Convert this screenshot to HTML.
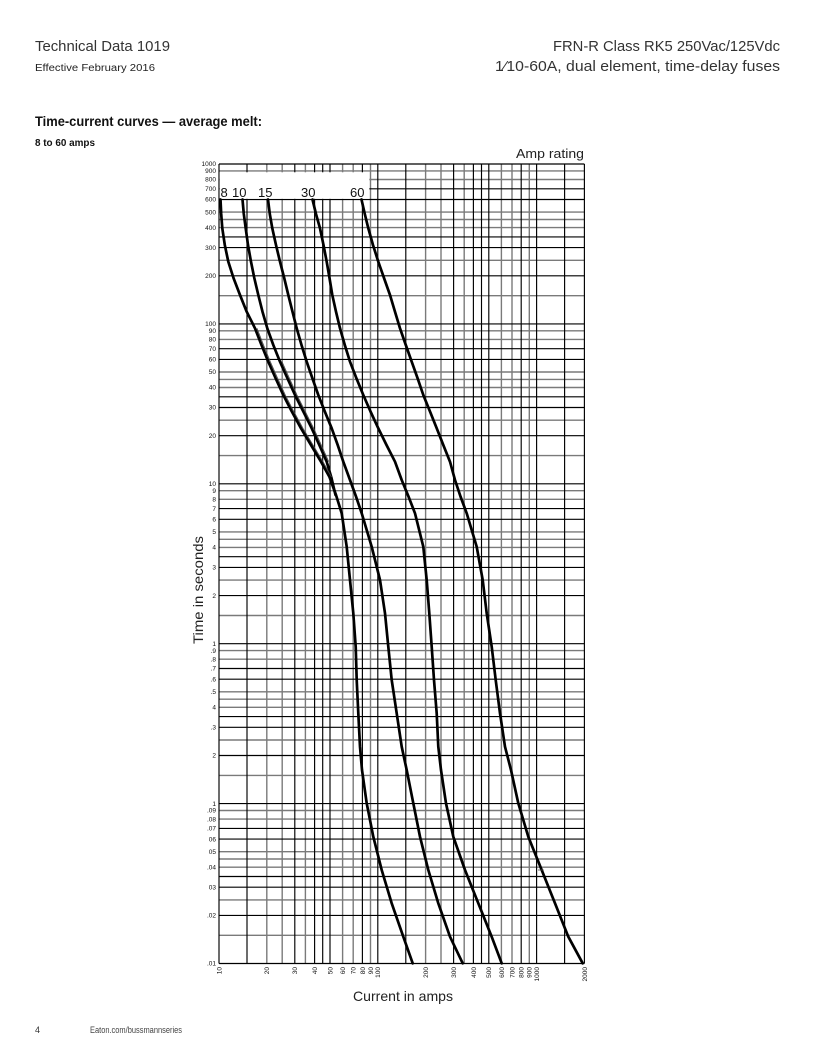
<!DOCTYPE html>
<html>
<head>
<meta charset="utf-8">
<style>
  html, body { margin:0; padding:0; background:#fff; }
  svg { display:block; }
  text { font-family: "Liberation Sans", Arial, sans-serif; }
  .yl, .xl { font-family: "DejaVu Sans", "Liberation Sans", sans-serif; font-size:6.5px; fill:#111; }
</style>
</head>
<body>
<svg width="816" height="1056" viewBox="0 0 816 1056" xmlns="http://www.w3.org/2000/svg">
  <rect x="0" y="0" width="816" height="1056" fill="#fff"/>

  <!-- Header -->
  <text x="35" y="51" font-size="15" fill="#333" textLength="135" lengthAdjust="spacingAndGlyphs">Technical Data 1019</text>
  <text x="35" y="71" font-size="10" fill="#222" textLength="120" lengthAdjust="spacingAndGlyphs">Effective February 2016</text>
  <text x="780" y="51" font-size="15" fill="#333" text-anchor="end" textLength="227" lengthAdjust="spacingAndGlyphs">FRN-R Class RK5 250Vac/125Vdc</text>
  <text x="780" y="71" font-size="15" fill="#333" text-anchor="end" textLength="285" lengthAdjust="spacingAndGlyphs">1⁄10-60A, dual element, time-delay fuses</text>
  <text x="35" y="126" font-size="14" font-weight="bold" fill="#111" textLength="227" lengthAdjust="spacingAndGlyphs">Time-current curves — average melt:</text>
  <text x="35" y="146" font-size="10" font-weight="bold" fill="#111" textLength="60" lengthAdjust="spacingAndGlyphs">8 to 60 amps</text>
  <text x="584" y="158" font-size="13" fill="#222" text-anchor="end" textLength="68" lengthAdjust="spacingAndGlyphs">Amp rating</text>

  <!-- Gray grid lines -->
  <g stroke="#7a7a7a" stroke-width="1.4" fill="none">
    <line x1="266.8" y1="164" x2="266.8" y2="963.5"/>
    <line x1="282.2" y1="164" x2="282.2" y2="963.5"/>
    <line x1="305.4" y1="164" x2="305.4" y2="963.5"/>
    <line x1="342.6" y1="164" x2="342.6" y2="963.5"/>
    <line x1="353.2" y1="164" x2="353.2" y2="963.5"/>
    <line x1="370.5" y1="164" x2="370.5" y2="963.5"/>
    <line x1="425.6" y1="164" x2="425.6" y2="963.5"/>
    <line x1="441.0" y1="164" x2="441.0" y2="963.5"/>
    <line x1="464.2" y1="164" x2="464.2" y2="963.5"/>
    <line x1="501.4" y1="164" x2="501.4" y2="963.5"/>
    <line x1="512.0" y1="164" x2="512.0" y2="963.5"/>
    <line x1="529.3" y1="164" x2="529.3" y2="963.5"/>
    <line x1="219" y1="935.3" x2="584.4" y2="935.3"/>
    <line x1="219" y1="899.9" x2="584.4" y2="899.9"/>
    <line x1="219" y1="867.2" x2="584.4" y2="867.2"/>
    <line x1="219" y1="859.0" x2="584.4" y2="859.0"/>
    <line x1="219" y1="851.7" x2="584.4" y2="851.7"/>
    <line x1="219" y1="819.1" x2="584.4" y2="819.1"/>
    <line x1="219" y1="810.5" x2="584.4" y2="810.5"/>
    <line x1="219" y1="775.4" x2="584.4" y2="775.4"/>
    <line x1="219" y1="740.0" x2="584.4" y2="740.0"/>
    <line x1="219" y1="707.3" x2="584.4" y2="707.3"/>
    <line x1="219" y1="699.2" x2="584.4" y2="699.2"/>
    <line x1="219" y1="691.8" x2="584.4" y2="691.8"/>
    <line x1="219" y1="659.2" x2="584.4" y2="659.2"/>
    <line x1="219" y1="650.6" x2="584.4" y2="650.6"/>
    <line x1="219" y1="615.5" x2="584.4" y2="615.5"/>
    <line x1="219" y1="580.1" x2="584.4" y2="580.1"/>
    <line x1="219" y1="547.4" x2="584.4" y2="547.4"/>
    <line x1="219" y1="539.3" x2="584.4" y2="539.3"/>
    <line x1="219" y1="531.9" x2="584.4" y2="531.9"/>
    <line x1="219" y1="499.3" x2="584.4" y2="499.3"/>
    <line x1="219" y1="490.7" x2="584.4" y2="490.7"/>
    <line x1="219" y1="455.6" x2="584.4" y2="455.6"/>
    <line x1="219" y1="420.2" x2="584.4" y2="420.2"/>
    <line x1="219" y1="387.5" x2="584.4" y2="387.5"/>
    <line x1="219" y1="379.4" x2="584.4" y2="379.4"/>
    <line x1="219" y1="372.0" x2="584.4" y2="372.0"/>
    <line x1="219" y1="339.4" x2="584.4" y2="339.4"/>
    <line x1="219" y1="330.8" x2="584.4" y2="330.8"/>
    <line x1="219" y1="295.7" x2="584.4" y2="295.7"/>
    <line x1="219" y1="260.3" x2="584.4" y2="260.3"/>
    <line x1="219" y1="227.6" x2="584.4" y2="227.6"/>
    <line x1="219" y1="219.5" x2="584.4" y2="219.5"/>
    <line x1="219" y1="212.1" x2="584.4" y2="212.1"/>
    <line x1="219" y1="179.5" x2="584.4" y2="179.5"/>
    <line x1="219" y1="170.9" x2="584.4" y2="170.9"/>
  </g>

  <!-- Black grid lines -->
  <g stroke="#000" stroke-width="1.15" fill="none">
    <line x1="219" y1="164" x2="219" y2="963.5"/>
    <line x1="247.0" y1="164" x2="247.0" y2="963.5"/>
    <line x1="294.8" y1="164" x2="294.8" y2="963.5"/>
    <line x1="314.6" y1="164" x2="314.6" y2="963.5"/>
    <line x1="322.7" y1="164" x2="322.7" y2="963.5"/>
    <line x1="330.0" y1="164" x2="330.0" y2="963.5"/>
    <line x1="362.4" y1="164" x2="362.4" y2="963.5"/>
    <line x1="377.8" y1="164" x2="377.8" y2="963.5"/>
    <line x1="405.8" y1="164" x2="405.8" y2="963.5"/>
    <line x1="453.6" y1="164" x2="453.6" y2="963.5"/>
    <line x1="473.4" y1="164" x2="473.4" y2="963.5"/>
    <line x1="481.5" y1="164" x2="481.5" y2="963.5"/>
    <line x1="488.8" y1="164" x2="488.8" y2="963.5"/>
    <line x1="521.2" y1="164" x2="521.2" y2="963.5"/>
    <line x1="536.6" y1="164" x2="536.6" y2="963.5"/>
    <line x1="564.6" y1="164" x2="564.6" y2="963.5"/>
    <line x1="584.4" y1="164" x2="584.4" y2="963.5"/>
    <line x1="219" y1="963.5" x2="584.4" y2="963.5"/>
    <line x1="219" y1="915.4" x2="584.4" y2="915.4"/>
    <line x1="219" y1="887.2" x2="584.4" y2="887.2"/>
    <line x1="219" y1="876.5" x2="584.4" y2="876.5"/>
    <line x1="219" y1="839.1" x2="584.4" y2="839.1"/>
    <line x1="219" y1="828.4" x2="584.4" y2="828.4"/>
    <line x1="219" y1="803.6" x2="584.4" y2="803.6"/>
    <line x1="219" y1="755.5" x2="584.4" y2="755.5"/>
    <line x1="219" y1="727.3" x2="584.4" y2="727.3"/>
    <line x1="219" y1="716.6" x2="584.4" y2="716.6"/>
    <line x1="219" y1="679.2" x2="584.4" y2="679.2"/>
    <line x1="219" y1="668.5" x2="584.4" y2="668.5"/>
    <line x1="219" y1="643.7" x2="584.4" y2="643.7"/>
    <line x1="219" y1="595.6" x2="584.4" y2="595.6"/>
    <line x1="219" y1="567.4" x2="584.4" y2="567.4"/>
    <line x1="219" y1="556.7" x2="584.4" y2="556.7"/>
    <line x1="219" y1="519.3" x2="584.4" y2="519.3"/>
    <line x1="219" y1="508.6" x2="584.4" y2="508.6"/>
    <line x1="219" y1="483.8" x2="584.4" y2="483.8"/>
    <line x1="219" y1="435.7" x2="584.4" y2="435.7"/>
    <line x1="219" y1="407.5" x2="584.4" y2="407.5"/>
    <line x1="219" y1="396.8" x2="584.4" y2="396.8"/>
    <line x1="219" y1="359.4" x2="584.4" y2="359.4"/>
    <line x1="219" y1="348.7" x2="584.4" y2="348.7"/>
    <line x1="219" y1="323.9" x2="584.4" y2="323.9"/>
    <line x1="219" y1="275.8" x2="584.4" y2="275.8"/>
    <line x1="219" y1="247.6" x2="584.4" y2="247.6"/>
    <line x1="219" y1="236.9" x2="584.4" y2="236.9"/>
    <line x1="219" y1="199.5" x2="584.4" y2="199.5"/>
    <line x1="219" y1="188.8" x2="584.4" y2="188.8"/>
    <line x1="219" y1="164" x2="584.4" y2="164"/>
  </g>

  <!-- Label box -->
  <rect x="219.7" y="172.3" width="149.6" height="26.5" fill="#fff"/>
  <g font-size="13" fill="#111">
    <text x="220.5" y="197">8</text>
    <text x="232" y="197">10</text>
    <text x="258" y="197">15</text>
    <text x="301" y="197">30</text>
    <text x="350" y="197">60</text>
  </g>

  <!-- Curves -->
  <g fill="none" stroke="#000" stroke-width="2.7" stroke-linejoin="round" stroke-linecap="round">
    <polyline points="220.5,199.5 221.2,214 222.3,228.3 224.8,245 228.3,261.7 233.5,278 240,295 246.7,311.7 255,328.3 261.5,345 268.3,361.7 275.5,378 283.3,395 291.8,411.5 301,428.3 311,445 321,461.7 329.5,477 336,495 341.7,513.3 346.7,546.7 350,580 353.3,613.3 355.7,646.7 356.7,680 358.3,713.3 360,746.7 362,770 366.7,803.3 373.3,836.7 381.7,870 391.7,903.3 403.3,936.7 412.7,963.3"/>
    <polyline points="242.5,199.5 243.8,214 245.7,228.3 248,245 251,261.7 254.3,278 258.3,295 262.5,311.7 267.3,328.3 273.3,345 280,361.7 287.3,378 295,395 303.3,411.5 311.7,428.3 319.3,445 326.7,461.7 331.5,478 335.5,495"/>
    <polyline points="268,199.5 269.8,214 272.3,228.3 276,245 280,261.7 284.2,278 288.3,295 292.5,311.7 296.7,328.3 301.5,345 306.7,361.7 312.3,378 318.3,395 324.8,411.5 331.7,428.3 337.7,445 343.3,461.7 350,480 356,496.5 361.7,513.3 371.7,546.7 380,580 385,613.3 388.3,646.7 391.7,680 396.7,713.3 401.7,746.7 406.7,770 413.3,803.3 420,836.7 428.3,870 438.3,903.3 450,936.7 462.7,963.3"/>
    <polyline points="312.5,199.5 316,214 320,228.3 323.5,245 326.7,261.7 329.5,278 332.3,295 336,311.7 340,328.3 344.8,345 350,361.7 356.3,378 363.3,395 370.5,411.5 378.3,428.3 386.5,445 395,461.7 401.7,480 408.5,496.5 415,513.3 423.3,546.7 426.7,580 429.3,613.3 431.7,646.7 434,680 436.7,713.3 438.3,746.7 441,770 446,803.3 453.3,836.7 465,870 478.3,903.3 491.7,936.7 501.7,963.3"/>
    <polyline points="361.5,199.5 364.8,214 368.3,228.3 373,245 378.3,261.7 384,278 390,295 395,311.7 400,328.3 405.8,345 411.7,361.7 417.5,378 423.3,395 430,411.5 436.7,428.3 443.3,445 450,461.7 455,480 460.5,496.5 466.7,513.3 476.7,546.7 482.7,580 486.7,613.3 491.7,646.7 495.7,680 500,713.3 505,746.7 511,770 518.3,803.3 528.3,836.7 541.7,870 555,903.3 568.3,936.7 582.7,963.3"/>
  </g>
  <!-- thin companion lines (doubled-line look) -->
  <g fill="none" stroke="#444" stroke-width="0.8" stroke-linejoin="round" transform="translate(2,0)">
    <polyline points="255,328.3 261.5,345 268.3,361.7 275.5,378 283.3,395 291.8,411.5 301,428.3 311,445 321,461.7 329.5,477"/>
    <polyline points="280,361.7 287.3,378 295,395 303.3,411.5 311.7,428.3 319.3,445 326.7,461.7"/>
    <polyline points="536,870 541.7,870"/>
  </g>

  <!-- Y axis labels -->
  <g class="yl" text-anchor="end">
    <text x="216" y="166">1000</text>
    <text x="216" y="173">900</text>
    <text x="216" y="181.5">800</text>
    <text x="216" y="191">700</text>
    <text x="216" y="201.7">600</text>
    <text x="216" y="214.3">500</text>
    <text x="216" y="229.8">400</text>
    <text x="216" y="249.8">300</text>
    <text x="216" y="278">200</text>
    <text x="216" y="326.1">100</text>
    <text x="216" y="333">90</text>
    <text x="216" y="341.6">80</text>
    <text x="216" y="350.9">70</text>
    <text x="216" y="361.6">60</text>
    <text x="216" y="374.2">50</text>
    <text x="216" y="389.7">40</text>
    <text x="216" y="409.7">30</text>
    <text x="216" y="437.9">20</text>
    <text x="216" y="486">10</text>
    <text x="216" y="492.9">9</text>
    <text x="216" y="501.5">8</text>
    <text x="216" y="510.8">7</text>
    <text x="216" y="521.5">6</text>
    <text x="216" y="534.1">5</text>
    <text x="216" y="549.6">4</text>
    <text x="216" y="569.6">3</text>
    <text x="216" y="597.8">2</text>
    <text x="216" y="645.9">1</text>
    <text x="216" y="652.8">.9</text>
    <text x="216" y="661.4">.8</text>
    <text x="216" y="670.7">.7</text>
    <text x="216" y="681.4">.6</text>
    <text x="216" y="694">.5</text>
    <text x="216" y="709.5">4</text>
    <text x="216" y="729.5">.3</text>
    <text x="216" y="757.7">2</text>
    <text x="216" y="805.8">1</text>
    <text x="216" y="812.7">.09</text>
    <text x="216" y="821.3">.08</text>
    <text x="216" y="830.6">.07</text>
    <text x="216" y="841.3">06</text>
    <text x="216" y="853.9">05</text>
    <text x="216" y="869.4">.04</text>
    <text x="216" y="889.4">03</text>
    <text x="216" y="917.6">.02</text>
    <text x="216" y="965.7">.01</text>
  </g>

  <!-- X axis labels (rotated) -->
  <g class="xl" text-anchor="end">
    <text transform="translate(221.4,967) rotate(-90)">10</text>
    <text transform="translate(269.2,967) rotate(-90)">20</text>
    <text transform="translate(297.2,967) rotate(-90)">30</text>
    <text transform="translate(317,967) rotate(-90)">40</text>
    <text transform="translate(332.4,967) rotate(-90)">50</text>
    <text transform="translate(345,967) rotate(-90)">60</text>
    <text transform="translate(355.6,967) rotate(-90)">70</text>
    <text transform="translate(364.8,967) rotate(-90)">80</text>
    <text transform="translate(372.9,967) rotate(-90)">90</text>
    <text transform="translate(380.2,967) rotate(-90)">100</text>
    <text transform="translate(428,967) rotate(-90)">200</text>
    <text transform="translate(456,967) rotate(-90)">300</text>
    <text transform="translate(475.8,967) rotate(-90)">400</text>
    <text transform="translate(491.2,967) rotate(-90)">500</text>
    <text transform="translate(503.8,967) rotate(-90)">600</text>
    <text transform="translate(514.4,967) rotate(-90)">700</text>
    <text transform="translate(523.6,967) rotate(-90)">800</text>
    <text transform="translate(531.7,967) rotate(-90)">900</text>
    <text transform="translate(539,967) rotate(-90)">1000</text>
    <text transform="translate(586.8,967) rotate(-90)">2000</text>
  </g>

  <!-- Axis titles -->
  <text transform="translate(203,590) rotate(-90)" font-size="14" fill="#222" text-anchor="middle" textLength="108" lengthAdjust="spacingAndGlyphs">Time in seconds</text>
  <text x="403" y="1001" font-size="14" fill="#222" text-anchor="middle" textLength="100" lengthAdjust="spacingAndGlyphs">Current in amps</text>

  <!-- Footer -->
  <text x="35" y="1033" font-size="9" fill="#333">4</text>
  <text x="90" y="1033" font-size="9" fill="#444" textLength="92" lengthAdjust="spacingAndGlyphs">Eaton.com/bussmannseries</text>
</svg>
</body>
</html>
